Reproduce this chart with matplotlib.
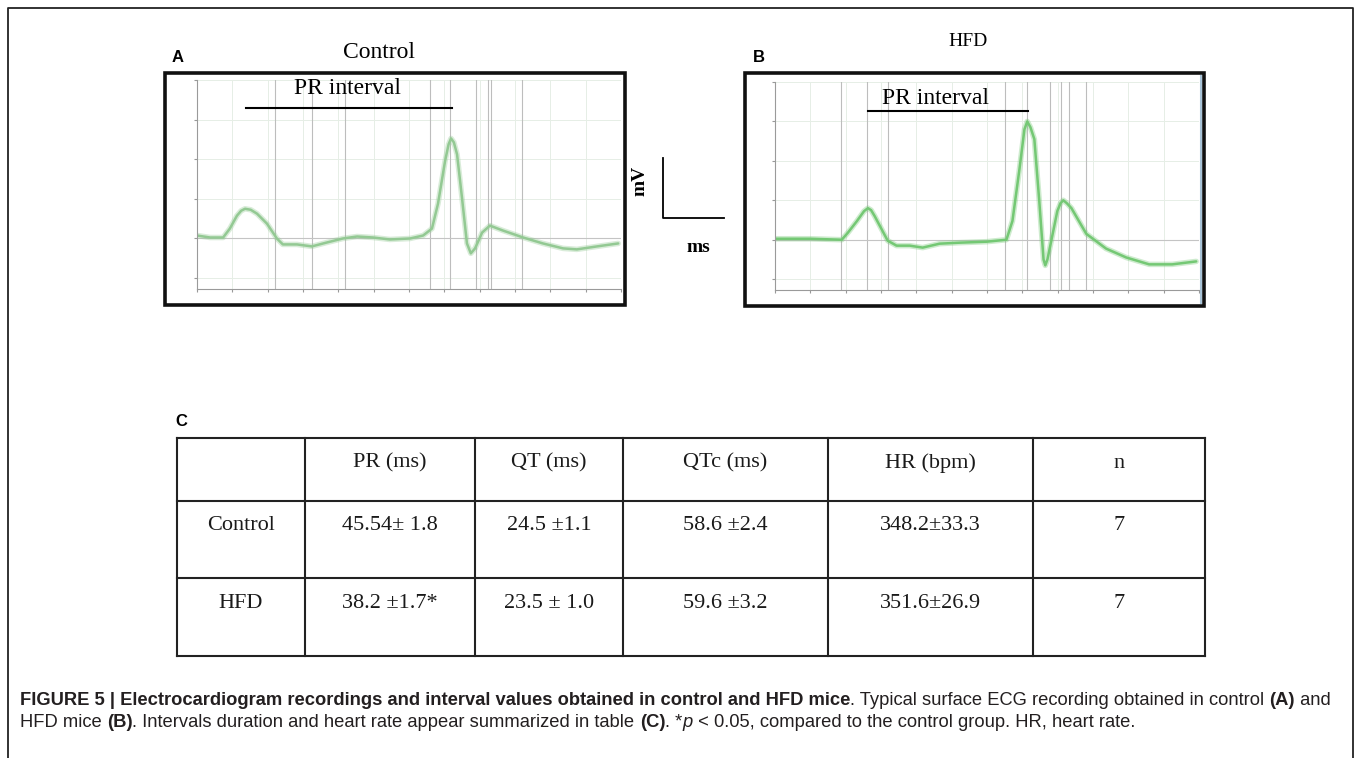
import numpy as np
import matplotlib
matplotlib.use('Agg')
import matplotlib.pyplot as plt
from matplotlib.patches import Rectangle

# ECG trace, control mouse (t in ms, v in mV)
ctrl_t = [0.0, 3.7, 7.4, 9.3, 11.3, 12.5, 13.6, 15.2, 17.0, 19.8, 22.6, 24.3, 28.3, 32.5, 36.8, 41.3, 45.3,
          49.8, 54.6, 60.3, 64.0, 66.5, 68.2, 70.2, 71.2, 71.9, 72.7, 73.6, 75.0, 76.4, 77.5, 78.7, 80.7,
          82.9, 86.6, 92.3, 97.9, 103.6, 107.5, 113.2, 119.2]
ctrl_v = [0.03, 0.01, 0.01, 0.10, 0.23, 0.28, 0.30, 0.29, 0.25, 0.15, 0.00, -0.06, -0.06, -0.08, -0.04, 0.00, 0.02,
          0.01, -0.01, 0.00, 0.03, 0.10, 0.35, 0.78, 0.95, 1.01, 0.97, 0.85, 0.41, -0.05, -0.15, -0.10, 0.06,
          0.13, 0.08, 0.01, -0.05, -0.10, -0.11, -0.08, -0.05]
ctrl_marks = [22.1, 32.5, 41.9, 65.9, 71.6, 79.0, 82.4, 83.2, 92.0]

# ECG trace, HFD mouse
hfd_t = [0.0, 9.9, 18.9, 20.6, 23.2, 25.2, 26.3, 27.2, 28.2, 31.9, 34.4, 38.1, 41.8, 46.6, 52.2, 59.9, 65.5,
         67.2, 69.2, 70.6, 71.4, 72.3, 73.4, 74.8, 76.0, 76.5, 77.1, 78.2, 79.9, 80.8, 81.6, 82.6, 83.9, 88.1,
         93.7, 99.4, 105.9, 112.4, 119.2]
hfd_v = [0.01, 0.01, 0.00, 0.07, 0.19, 0.29, 0.32, 0.30, 0.24, -0.01, -0.06, -0.06, -0.08, -0.04, -0.03, -0.02, 0.00,
         0.19, 0.72, 1.12, 1.20, 1.14, 1.02, 0.39, -0.20, -0.26, -0.20, -0.01, 0.29, 0.37, 0.40, 0.37, 0.32, 0.06,
         -0.09, -0.18, -0.25, -0.25, -0.22]
hfd_marks = [18.6, 26.0, 31.9, 65.2, 71.4, 77.9, 81.0, 83.3, 88.1]

# table C
col_heads = ['', 'PR (ms)', 'QT (ms)', 'QTc (ms)', 'HR (bpm)', 'n']
row_names = ['Control', 'HFD']
pr_vals = ['45.54\u00b1 1.8', '38.2 \u00b11.7*']
qt_vals = ['24.5 \u00b11.1', '23.5 \u00b1 1.0']
qtc_vals = ['58.6 \u00b12.4', '59.6 \u00b13.2']
hr_vals = ['348.2\u00b133.3', '351.6\u00b126.9']
n_vals = ['7', '7']

W, H = 1355, 758
fig = plt.figure(figsize=(W / 100, H / 100), dpi=100)
serif = 'Liberation Serif'
sans = 'Liberation Sans'


def px_axes(x0, y0, x1, y1, **kw):
    return fig.add_axes([x0 / W, 1 - y1 / H, (x1 - x0) / W, (y1 - y0) / H], **kw)


def ecg_panel(x0, y0, x1, y1, t, v, marks, color):
    ax = px_axes(x0, y0, x1, y1)
    ax.set_xlim(0, 120)
    ax.set_ylim(-0.51, 1.60)
    ax.set_xticks(np.arange(0, 121, 10))
    ax.set_yticks([-0.4, 0.0, 0.4, 0.8, 1.2, 1.6])
    ax.grid(color='#e6eee6', lw=0.7)
    ax.tick_params(length=2, color='#999999', labelleft=False, labelbottom=False)
    for s in ['top', 'right']:
        ax.spines[s].set_visible(False)
    for s in ['left', 'bottom']:
        ax.spines[s].set_color('#9a9a9a')
        ax.spines[s].set_linewidth(0.8)
    for m in marks:
        ax.axvline(m, color='#bdbdbd', lw=0.8)
    ax.axhline(0, color='#c4c4c4', lw=0.8)
    ax.plot(t, v, color=color, lw=4, alpha=0.35, solid_capstyle='round', solid_joinstyle='round')
    ax.plot(t, v, color=color, lw=1.8, solid_capstyle='round', solid_joinstyle='round')
    return ax


ecg_panel(197, 80, 621, 289, ctrl_t, ctrl_v, ctrl_marks, '#93c993')
ecg_panel(775, 82, 1199, 290, hfd_t, hfd_v, hfd_marks, '#74c874')

ov = fig.add_axes([0, 0, 1, 1], zorder=10)
ov.set_xlim(0, W)
ov.set_ylim(H, 0)
ov.axis('off')
ov.patch.set_alpha(0)

# outer frame
ov.plot([8, 8, 1353, 1353], [H + 5, 8, 8, H + 5], color='#222222', lw=1.3)

# panel frames
ov.add_patch(Rectangle((165, 73), 460, 232, fill=False, lw=2.6, ec='#111111'))
ov.add_patch(Rectangle((745, 73), 459, 233, fill=False, lw=2.6, ec='#111111'))
ov.plot([1201, 1201], [76, 303], color='#a9c4d8', lw=1.5)

ov.text(172, 57, 'A', family=sans, weight='bold', fontsize=12, va='center', ha='left')
ov.text(753, 57, 'B', family=sans, weight='bold', fontsize=12, va='center', ha='left')
ov.text(379, 52, 'Control', family=serif, fontsize=17, va='center', ha='center')
ov.text(968, 42, 'HFD', family=serif, fontsize=14, va='center', ha='center')

ov.text(348, 89, 'PR interval', family=serif, fontsize=17, va='center', ha='center')
ov.plot([246, 452], [108, 108], color='black', lw=1.5)
ov.text(936, 98, 'PR interval', family=serif, fontsize=17, va='center', ha='center')
ov.plot([868, 1028], [111, 111], color='black', lw=1.5)

# scale bar
ov.plot([663, 663, 724], [158, 218, 218], color='black', lw=1.3)
ov.text(640, 181, 'mV', family=serif, weight='bold', fontsize=14, rotation=90,
        va='center', ha='center')
ov.text(698, 247, 'ms', family=serif, weight='bold', fontsize=14, va='center', ha='center')

# table C
ov.text(175, 421, 'C', family=sans, weight='bold', fontsize=12, va='center', ha='left')
col_x = [177, 305, 475, 623, 828, 1033, 1205]
row_y = [438, 501, 578, 656]
for y in row_y:
    ov.plot([col_x[0], col_x[-1]], [y, y], color='#222222', lw=1.5)
for x in col_x:
    ov.plot([x, x], [row_y[0], row_y[-1]], color='#222222', lw=1.5)

cells = [col_heads] + [[row_names[i], pr_vals[i], qt_vals[i], qtc_vals[i], hr_vals[i], n_vals[i]]
                       for i in range(len(row_names))]
for r, row in enumerate(cells):
    for c, txt in enumerate(row):
        ov.text((col_x[c] + col_x[c + 1]) / 2, row_y[r] + 25, txt, family=serif, fontsize=16,
                va='center', ha='center', color='#1a1a1a')

# caption
cap1 = [('FIGURE 5 | Electrocardiogram recordings and interval values obtained in control and HFD mice', 'bold', 'normal'),
        ('. Typical surface ECG recording obtained in control ', 'normal', 'normal'),
        ('(A)', 'bold', 'normal'), (' and', 'normal', 'normal')]
cap2 = [('HFD mice ', 'normal', 'normal'), ('(B)', 'bold', 'normal'),
        ('. Intervals duration and heart rate appear summarized in table ', 'normal', 'normal'),
        ('(C)', 'bold', 'normal'), ('. *', 'normal', 'normal'), ('p', 'normal', 'italic'),
        (' < 0.05, compared to the control group. HR, heart rate.', 'normal', 'normal')]

renderer = fig.canvas.get_renderer()


def draw_runs(runs, x, y, size):
    arts = []
    for txt, wt, st in runs:
        t = ov.text(x, y, txt, family=sans, weight=wt, style=st, fontsize=size,
                    va='baseline', ha='left', color='#231f20')
        bb = t.get_window_extent(renderer)
        x += bb.width
        arts.append(t)
    return x, arts


end, arts = draw_runs(cap1, 20, 705, 11)
for a in arts:
    a.remove()
size = 11 * (1335 - 20) / (end - 20)
draw_runs(cap1, 20, 705, size)
draw_runs(cap2, 20, 727, size)

fig.savefig('out.png', dpi=100)
